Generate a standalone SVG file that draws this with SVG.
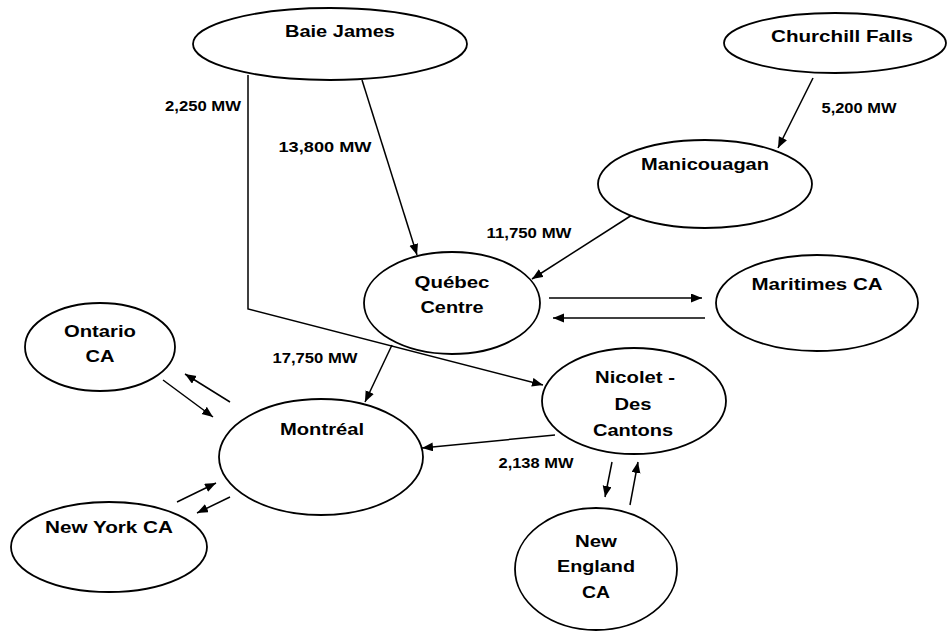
<svg xmlns="http://www.w3.org/2000/svg" width="948" height="632" viewBox="0 0 948 632">
<defs>
<marker id="arr" markerUnits="userSpaceOnUse" markerWidth="12" markerHeight="10" refX="11" refY="4.5" orient="auto">
<path d="M0,0 L11,4.5 L0,9 Z" fill="#000"/>
</marker>
</defs>
<style>
.node ellipse{fill:#fff;stroke:#000;stroke-width:1.8}
.node text{font-family:"Liberation Sans",Arial,sans-serif;font-weight:bold;font-size:17px;fill:#000;text-anchor:middle}
.lbl{font-family:"Liberation Sans",Arial,sans-serif;font-weight:bold;font-size:14px;fill:#000;text-anchor:middle}
.c line,.c polyline{stroke:#000;stroke-width:1.5;fill:none;marker-end:url(#arr)}
</style>
<rect width="948" height="632" fill="#fff"/>
<g id="connectors" class="c">
<line x1="362" y1="80" x2="417" y2="255"/>
<polyline points="248,75 248,309 543,385"/>
<line x1="813" y1="78" x2="778" y2="148"/>
<line x1="632" y1="215" x2="532" y2="279"/>
<line x1="549" y1="298" x2="702" y2="298"/>
<line x1="705" y1="318" x2="553" y2="318"/>
<line x1="392" y1="345" x2="365" y2="402"/>
<line x1="555" y1="435" x2="422" y2="448"/>
<line x1="612" y1="462" x2="605" y2="497"/>
<line x1="630" y1="505" x2="638" y2="462"/>
<line x1="230" y1="402" x2="185" y2="374"/>
<line x1="163" y1="380" x2="213" y2="417"/>
<line x1="177" y1="502" x2="216" y2="483"/>
<line x1="230" y1="497" x2="197" y2="513"/>
</g>
<g id="labels">
<text class="lbl" x="203" y="111" textLength="76" lengthAdjust="spacingAndGlyphs">2,250 MW</text>
<text class="lbl" x="325" y="152" textLength="93" lengthAdjust="spacingAndGlyphs">13,800 MW</text>
<text class="lbl" x="859" y="113" textLength="75" lengthAdjust="spacingAndGlyphs">5,200 MW</text>
<text class="lbl" x="529" y="238" textLength="85" lengthAdjust="spacingAndGlyphs">11,750 MW</text>
<text class="lbl" x="315" y="363" textLength="85" lengthAdjust="spacingAndGlyphs">17,750 MW</text>
<text class="lbl" x="536" y="468" textLength="75" lengthAdjust="spacingAndGlyphs">2,138 MW</text>
</g>
<g id="baie-james" class="node">
<ellipse cx="330" cy="44" rx="137" ry="36"/>
<text x="340" y="37" textLength="110" lengthAdjust="spacingAndGlyphs">Baie James</text>
</g>
<g id="churchill-falls" class="node">
<ellipse cx="835" cy="43" rx="111" ry="30"/>
<text x="842" y="42" textLength="142" lengthAdjust="spacingAndGlyphs">Churchill Falls</text>
</g>
<g id="manicouagan" class="node">
<ellipse cx="705" cy="184" rx="107" ry="44"/>
<text x="705" y="170" textLength="128" lengthAdjust="spacingAndGlyphs">Manicouagan</text>
</g>
<g id="quebec-centre" class="node">
<ellipse cx="452" cy="303" rx="88" ry="51"/>
<text x="452" y="288" textLength="75" lengthAdjust="spacingAndGlyphs">Québec</text>
<text x="452" y="313" textLength="63" lengthAdjust="spacingAndGlyphs">Centre</text>
</g>
<g id="maritimes-ca" class="node">
<ellipse cx="817" cy="303" rx="101" ry="48"/>
<text x="817" y="290" textLength="131" lengthAdjust="spacingAndGlyphs">Maritimes CA</text>
</g>
<g id="ontario-ca" class="node">
<ellipse cx="100" cy="347" rx="75" ry="44"/>
<text x="100" y="337" textLength="72" lengthAdjust="spacingAndGlyphs">Ontario</text>
<text x="100" y="362" textLength="29" lengthAdjust="spacingAndGlyphs">CA</text>
</g>
<g id="montreal" class="node">
<ellipse cx="321" cy="457" rx="102" ry="58"/>
<text x="322" y="435" textLength="84" lengthAdjust="spacingAndGlyphs">Montréal</text>
</g>
<g id="new-york-ca" class="node">
<ellipse cx="109" cy="547" rx="98" ry="45"/>
<text x="109" y="533" textLength="128" lengthAdjust="spacingAndGlyphs">New York CA</text>
</g>
<g id="nicolet-des-cantons" class="node">
<ellipse cx="634" cy="401" rx="92" ry="53"/>
<text x="635" y="383" textLength="80" lengthAdjust="spacingAndGlyphs">Nicolet -</text>
<text x="633" y="410" textLength="37" lengthAdjust="spacingAndGlyphs">Des</text>
<text x="633" y="436" textLength="80" lengthAdjust="spacingAndGlyphs">Cantons</text>
</g>
<g id="new-england-ca" class="node">
<ellipse cx="596" cy="569" rx="81" ry="61"/>
<text x="596" y="547" textLength="42" lengthAdjust="spacingAndGlyphs">New</text>
<text x="596" y="572" textLength="78" lengthAdjust="spacingAndGlyphs">England</text>
<text x="596" y="598" textLength="28" lengthAdjust="spacingAndGlyphs">CA</text>
</g>
</svg>
